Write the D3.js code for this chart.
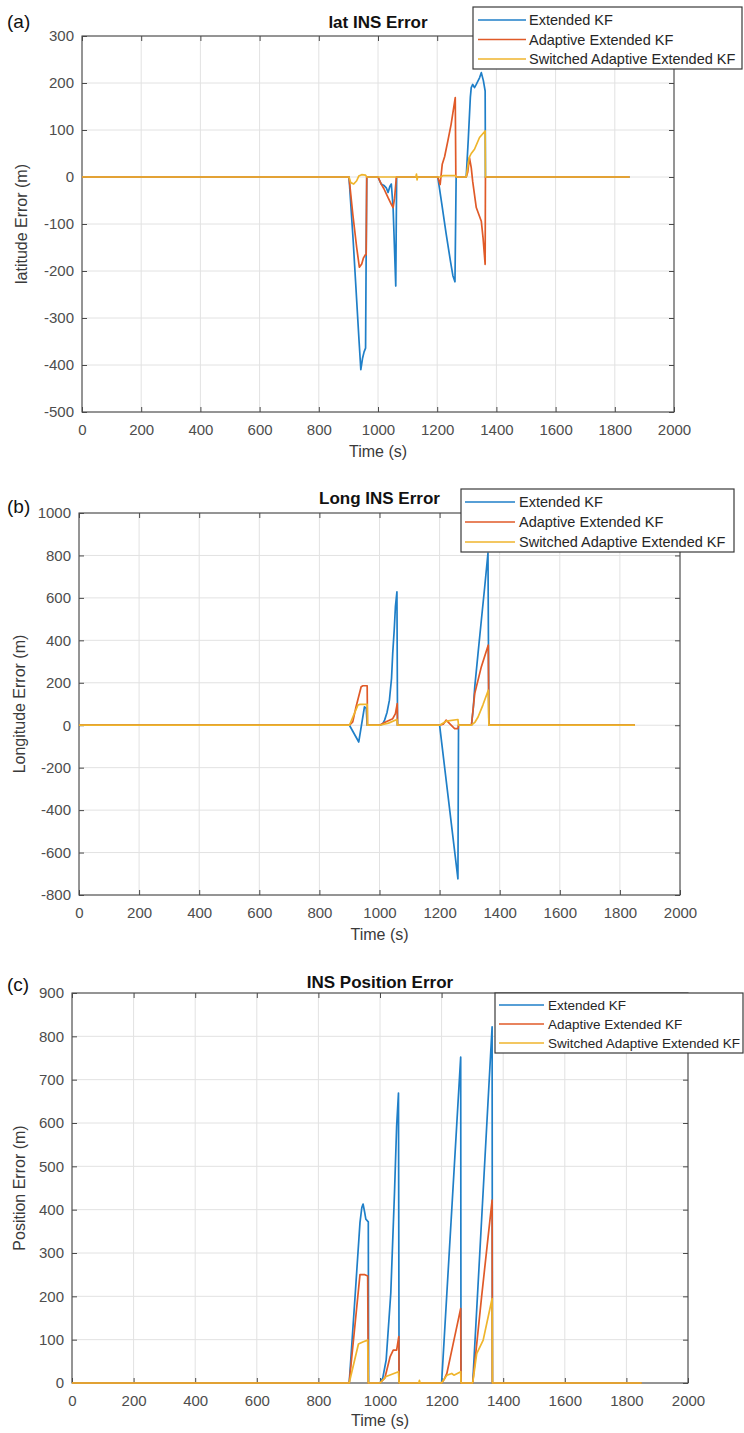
<!DOCTYPE html>
<html>
<head>
<meta charset="utf-8">
<script src="https://cdn.jsdelivr.net/npm/d3@7"></script>
<style>
body { margin: 0; background: #fff; }
text { font-family: "Liberation Sans", Arial, Helvetica, sans-serif; }
</style>
</head>
<body>
<svg id="chart" width="744" height="1433"></svg>
<script>
// ticks
var xTicks = [0, 200, 400, 600, 800, 1000, 1200, 1400, 1600, 1800, 2000];
var latTicks = [-500, -400, -300, -200, -100, 0, 100, 200, 300];
var longTicks = [-800, -600, -400, -200, 0, 200, 400, 600, 800, 1000];
var posTicks = [0, 100, 200, 300, 400, 500, 600, 700, 800, 900];

var seriesNames = ["Extended KF", "Adaptive Extended KF", "Switched Adaptive Extended KF"];
var seriesColors = ["#1f7fc8", "#e05a28", "#efb52c"];

// (a) latitude error, [time, value]
var latEKF = [[0,0],[902,0],[916,-134],[936,-349],[942,-410],[948,-385],[953,-372],[958,-364],[960,-165],[962,0],
  [1000,0],[1011,-15],[1020,-18],[1028,-23],[1034,-33],[1040,-20],[1045,-15],[1051,-65],[1060,-232],[1063,0],
  [1202,0],[1215,-55],[1230,-120],[1245,-180],[1253,-210],[1260,-223],[1264,0],
  [1298,0],[1305,80],[1312,170],[1315,190],[1320,197],[1326,190],[1332,197],[1343,211],[1349,222],[1356,205],[1362,183],[1363,0],
  [1850,0]];
var latAEKF = [[0,0],[902,0],[915,-80],[928,-150],[937,-192],[945,-185],[951,-172],[958,-165],[960,-165],[962,0],
  [1000,0],[1011,-15],[1020,-25],[1034,-44],[1045,-58],[1051,-65],[1056,-45],[1062,0],
  [1202,0],[1210,-16],[1217,27],[1225,43],[1236,77],[1247,112],[1261,169],[1263,0],
  [1298,0],[1303,10],[1309,41],[1315,20],[1320,-10],[1332,-65],[1349,-94],[1355,-130],[1362,-186],[1363,0],
  [1850,0]];
var latSAEKF = [[0,0],[902,0],[908,-12],[918,-15],[928,-8],[935,2],[945,5],[958,4],[962,0],
  [1128,0],[1130,6],[1132,-6],[1134,0],
  [1212,0],[1220,3],[1262,3],[1264,0],
  [1298,0],[1308,41],[1315,50],[1326,59],[1343,84],[1362,98],[1363,0],
  [1850,0]];

// (b) longitude error
var longEKF = [[0,0],[900,0],[931,-79],[950,87],[956,79],[959,0],
  [1000,0],[1010,5],[1017,24],[1025,60],[1033,118],[1040,220],[1044,339],[1049,450],[1053,559],[1058,628],[1060,0],
  [1200,0],[1261,-724],[1263,0],
  [1306,0],[1312,80],[1317,181],[1328,340],[1339,496],[1350,650],[1361,811],[1364,0],
  [1850,0]];
var longAEKF = [[0,0],[900,0],[911,16],[922,87],[939,181],[945,186],[959,186],[960,0],
  [1000,0],[1022,16],[1044,31],[1053,55],[1059,102],[1060,0],
  [1200,0],[1212,5],[1222,24],[1235,5],[1250,-16],[1261,-16],[1263,0],
  [1306,0],[1317,150],[1339,276],[1362,378],[1364,0],
  [1850,0]];
var longSAEKF = [[0,0],[900,0],[928,95],[935,98],[959,98],[960,0],
  [1000,0],[1030,10],[1058,27],[1060,0],
  [1200,0],[1222,19],[1261,27],[1263,0],
  [1306,0],[1318,15],[1328,39],[1344,95],[1362,165],[1364,0],
  [1850,0]];

// (c) position error
var posEKF = [[0,0],[900,0],[920,210],[935,370],[941,405],[945,413],[950,395],[954,378],[962,372],[963,0],
  [1000,0],[1009,12],[1020,53],[1035,207],[1047,438],[1054,592],[1060,669],[1062,0],
  [1200,0],[1262,752],[1263,0],
  [1301,0],[1364,822],[1365,0],
  [1850,0]];
var posAEKF = [[0,0],[900,0],[935,250],[951,250],[960,247],[962,0],
  [1000,0],[1016,12],[1033,61],[1043,76],[1054,76],[1061,107],[1062,0],
  [1200,0],[1208,8],[1217,22],[1238,92],[1262,172],[1263,0],
  [1301,0],[1330,200],[1364,422],[1365,0],
  [1850,0]];
var posSAEKF = [[0,0],[900,0],[930,90],[946,95],[960,99],[962,0],
  [1000,0],[1020,15],[1060,26],[1062,0],
  [1126,0],[1128,6],[1130,0],
  [1200,0],[1217,18],[1233,22],[1240,18],[1262,26],[1263,0],
  [1301,0],[1314,68],[1335,99],[1364,195],[1365,0],
  [1850,0]];

var svg = d3.select("#chart");
svg.append("rect").attr("width", 744).attr("height", 1433).attr("fill", "white");

var panels = [
  {tag: "(a)", title: "lat INS Error", ylabel: "latitude Error (m)", yTicks: latTicks,
   left: 82, right: 674, top: 36, bottom: 412, tagY: 28, titleY: 28, ylabelX: 27, xlabelY: 457,
   series: [latEKF, latAEKF, latSAEKF],
   legend: {x: 473, y: 7, w: 269, h: 62, row0: 20, step: 19.5, l1: 5, l2: 53, tx: 56, fs: 14.5}},
  {tag: "(b)", title: "Long INS Error", ylabel: "Longitude Error (m)", yTicks: longTicks,
   left: 79, right: 680, top: 513, bottom: 895, tagY: 513, titleY: 504, ylabelX: 25, xlabelY: 940,
   series: [longEKF, longAEKF, longSAEKF],
   legend: {x: 461, y: 489, w: 273, h: 63, row0: 502, step: 20, l1: 4, l2: 54, tx: 58, fs: 14.5}},
  {tag: "(c)", title: "INS Position Error", ylabel: "Position Error (m)", yTicks: posTicks,
   left: 72, right: 688, top: 993, bottom: 1383, tagY: 991, titleY: 988, ylabelX: 25, xlabelY: 1426,
   series: [posEKF, posAEKF, posSAEKF],
   legend: {x: 495, y: 993, w: 248, h: 60, row0: 1005, step: 19, l1: 4, l2: 49, tx: 53, fs: 13.5}}
];

var plainNum = function(d) { return String(d); };  // hyphen minus like MATLAB

panels.forEach(function(p) {
  var x = d3.scaleLinear().domain([0, 2000]).range([p.left, p.right]);
  var y = d3.scaleLinear().domain(d3.extent(p.yTicks)).range([p.bottom, p.top]);
  var g = svg.append("g");

  // grid
  g.selectAll(".vgrid").data(xTicks).enter().append("line")
    .attr("x1", function(d) { return x(d); }).attr("x2", function(d) { return x(d); })
    .attr("y1", p.top).attr("y2", p.bottom)
    .attr("stroke", "#e2e2e2");
  g.selectAll(".hgrid").data(p.yTicks).enter().append("line")
    .attr("x1", p.left).attr("x2", p.right)
    .attr("y1", function(d) { return y(d); }).attr("y2", function(d) { return y(d); })
    .attr("stroke", "#e2e2e2");

  // axes, ticks inward on all sides
  var bottom = g.append("g").attr("transform", "translate(0," + p.bottom + ")")
    .call(d3.axisBottom(x).tickValues(xTicks).tickSize(-5).tickPadding(12.5).tickFormat(plainNum));
  var leftAx = g.append("g").attr("transform", "translate(" + p.left + ",0)")
    .call(d3.axisLeft(y).tickValues(p.yTicks).tickSize(-5).tickPadding(8).tickFormat(plainNum));
  var topAx = g.append("g").attr("transform", "translate(0," + p.top + ")")
    .call(d3.axisTop(x).tickValues(xTicks).tickSize(-5).tickFormat(""));
  var rightAx = g.append("g").attr("transform", "translate(" + p.right + ",0)")
    .call(d3.axisRight(y).tickValues(p.yTicks).tickSize(-5).tickFormat(""));
  [bottom, leftAx, topAx, rightAx].forEach(function(a) {
    a.select(".domain").remove();
    a.selectAll("line").attr("stroke", "#4a4a4a");
    a.selectAll("text").attr("fill", "#4d4d4d").attr("font-size", 15)
      .attr("font-family", "Liberation Sans, Arial, sans-serif");
  });

  g.append("rect")
    .attr("x", p.left).attr("y", p.top)
    .attr("width", p.right - p.left).attr("height", p.bottom - p.top)
    .attr("fill", "none").attr("stroke", "#4a4a4a").attr("stroke-width", 1.1);

  // lines
  var line = d3.line()
    .x(function(d) { return x(d[0]); })
    .y(function(d) { return y(d[1]); });
  g.selectAll(".series").data(p.series).enter().append("path")
    .attr("d", line)
    .attr("fill", "none")
    .attr("stroke", function(d, i) { return seriesColors[i]; })
    .attr("stroke-width", 1.7)
    .attr("stroke-linejoin", "round");

  // labels
  g.append("text").attr("x", (p.left + p.right) / 2).attr("y", p.titleY)
    .attr("text-anchor", "middle").attr("font-size", 17).attr("font-weight", "bold")
    .attr("fill", "#111").text(p.title);
  g.append("text").attr("x", 7).attr("y", p.tagY)
    .attr("font-size", 19).attr("fill", "#111").text(p.tag);
  g.append("text").attr("x", (p.left + p.right) / 2).attr("y", p.xlabelY)
    .attr("text-anchor", "middle").attr("font-size", 16).attr("fill", "#3a3a3a").text("Time (s)");
  g.append("text")
    .attr("transform", "translate(" + p.ylabelX + "," + (p.top + p.bottom) / 2 + ") rotate(-90)")
    .attr("text-anchor", "middle").attr("font-size", 16).attr("fill", "#3a3a3a").text(p.ylabel);

  // legend
  var L = p.legend;
  var leg = g.append("g");
  leg.append("rect").attr("x", L.x).attr("y", L.y).attr("width", L.w).attr("height", L.h)
    .attr("fill", "white").attr("stroke", "#3a3a3a").attr("stroke-width", 1.2);
  var items = leg.selectAll(".item").data(seriesNames).enter().append("g")
    .attr("transform", function(d, i) { return "translate(" + L.x + "," + (L.row0 + i * L.step) + ")"; });
  items.append("line").attr("x1", L.l1).attr("x2", L.l2).attr("y1", 0).attr("y2", 0)
    .attr("stroke", function(d, i) { return seriesColors[i]; }).attr("stroke-width", 1.6);
  items.append("text").attr("x", L.tx).attr("y", 0).attr("dy", "0.35em")
    .attr("font-size", L.fs).attr("fill", "#262626").text(function(d) { return d; });
});
</script>
</body>
</html>
